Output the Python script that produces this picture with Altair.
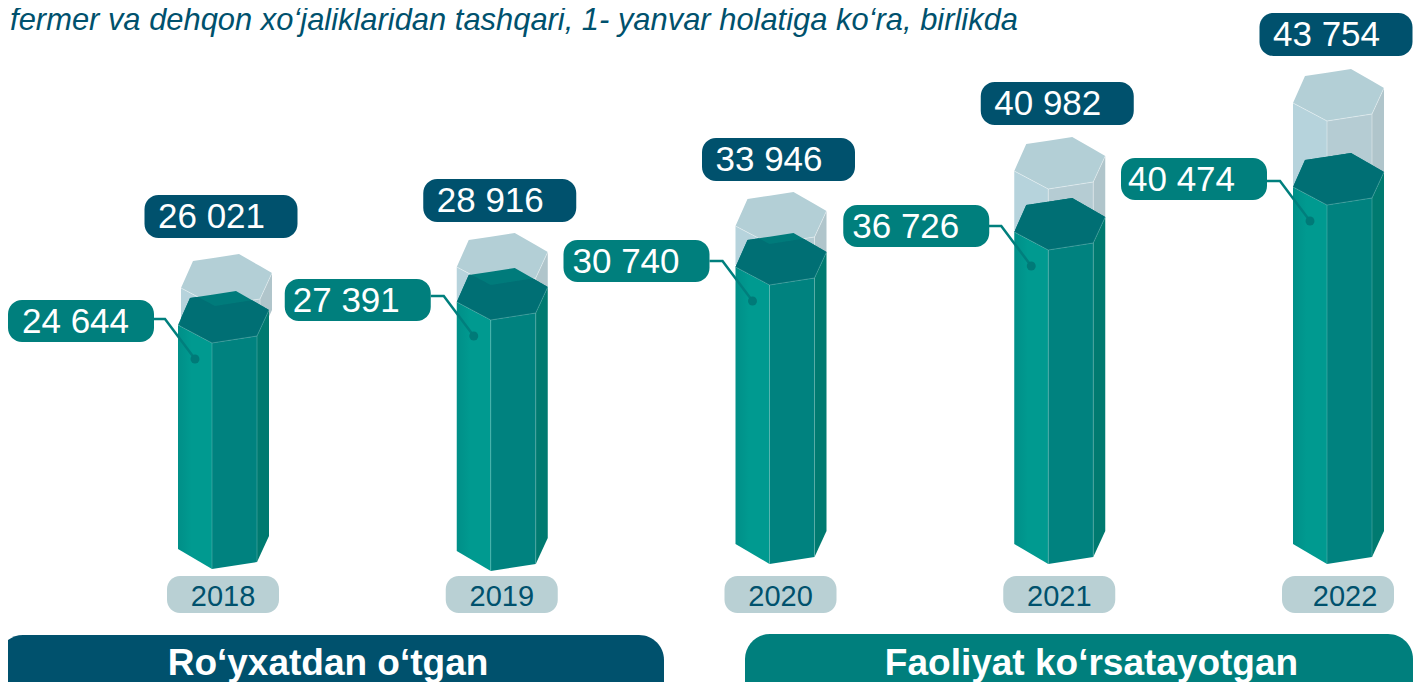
import altair as alt
import numpy as np
import pandas as pd

# ---- values ----
years = [2018, 2019, 2020, 2021, 2022]
registered = [26021, 28916, 33946, 40982, 43754]
active = [24644, 27391, 30740, 36726, 40474]
# column tops as drawn in the picture (the infographic is not strictly to scale)
registered_drawn = [25800, 27900, 32000, 37500, 44300]
active_drawn = [22100, 24400, 27900, 31400, 35900]
floor_drop = [500, 700, 0, 0, 0]
title_text = "fermer va dehqon xo‘jaliklaridan tashqari, 1- yanvar holatiga ko‘ra, birlikda"
series_names = ["Ro‘yxatdan o‘tgan", "Faoliyat ko‘rsatayotgan"]

# ---- colours ----
NAVY = "#00516d"
TEAL = "#007f7d"
YEAR_BG = "#b9d0d4"

# ---- scale helpers: x in years, y in units; px offsets convert to these ----
PX_PER_YEAR = 278.75
PX_PER_UNIT = 0.01
W, H = 1405, 674
X_DOMAIN = [2018 - 204 / PX_PER_YEAR, 2018 + (W - 204) / PX_PER_YEAR]
Y_DOMAIN = [-118 / PX_PER_UNIT, (H - 118) / PX_PER_UNIT]
xs = alt.Scale(domain=X_DOMAIN, range=[0, W], nice=False, zero=False)
ys = alt.Scale(domain=Y_DOMAIN, range=[H, 0], nice=False, zero=False)
X = lambda f="x": alt.X(f"{f}:Q", scale=xs, axis=None)
Y = lambda f="y": alt.Y(f"{f}:Q", scale=ys, axis=None)


def dx(year, px):
    return year + px / PX_PER_YEAR


def dy(value, px):
    # px measured downward on screen
    return value - px / PX_PER_UNIT


# hexagon cross-section relative to the front vertex (screen px)
HEX_UP = ([-34, -22, 24, 57], [-18, -45, -52, -33])
HEX_LOW = ([-34, 0, 45, 57], [-18, 0, -7, -33])
BREAKS = sorted(set(HEX_UP[0] + HEX_LOW[0]))


def faces(tops, shifts, floors):
    left, front, right, top, edges = [], [], [], [], []
    for i, yr in enumerate(years):
        t, f, s = tops[i], floors[i], shifts[i]
        g = str(yr)
        for px, tp, bt in [(-34, -18, -20), (0, 0, 0)]:
            left.append(dict(g=g, x=dx(yr, px + s), y=dy(t, tp), y2=dy(f, bt)))
        for px, off in [(0, 0), (45, -7)]:
            front.append(dict(g=g, x=dx(yr, px + s), y=dy(t, off), y2=dy(f, off)))
        for px, off in [(45, -7), (57, -33)]:
            right.append(dict(g=g, x=dx(yr, px + s), y=dy(t, off), y2=dy(f, off)))
        for px in BREAKS:
            up = np.interp(px, *HEX_UP)
            lo = np.interp(px, *HEX_LOW)
            top.append(dict(g=g, x=dx(yr, px + s), y=dy(t, up), y2=dy(t, lo)))
        for n, (px, off) in enumerate(zip(*HEX_LOW)):
            edges.append(dict(g=g + "rim", o=n, x=dx(yr, px + s), y=dy(t, off)))
        for name, px, off in [("a", 0, 0), ("b", 45, -7)]:
            edges.append(dict(g=g + name, o=0, x=dx(yr, px + s), y=dy(t, off)))
            edges.append(dict(g=g + name, o=1, x=dx(yr, px + s), y=dy(f, off)))
    return [pd.DataFrame(v) for v in (left, front, right, top, edges)]


def overlap():
    # part of the dark top that lies under the pale column
    rows = []
    for i, yr in enumerate(years):
        a, r, s = active_drawn[i], registered_drawn[i], light_shift[i]
        for px in range(-34, 58):
            up = np.interp(px, *HEX_UP)
            lo = np.interp(px, *HEX_LOW)
            y_up = dy(a, up)
            y_lo = dy(a, lo)
            y_rim = dy(r, np.interp(px - s, *HEX_LOW)) if -34 <= px - s else y_lo
            y_top = min(y_up, y_rim)
            y_top = max(y_top, y_lo)
            rows.append(dict(g=str(yr), x=dx(yr, px), y=y_top, y2=y_lo))
    return pd.DataFrame(rows)


def area(df, fill, opacity=1.0):
    return alt.Chart(df).mark_area(color=fill, opacity=opacity, interpolate="linear").encode(
        x=X(), y=Y(), y2="y2:Q", detail="g:N"
    )


def edge(df, colour, opacity, sw=0.7):
    return alt.Chart(df).mark_line(color=colour, opacity=opacity, strokeWidth=sw).encode(
        x=X(), y=Y(), detail="g:N", order="o:Q"
    )


def pills(df, fill, radius):
    return alt.Chart(df).mark_rect(color=fill, cornerRadius=radius).encode(
        x=X(), x2="x2:Q", y=Y(), y2="y2:Q"
    )


def texts(df, colour, size, align="left", **kw):
    return alt.Chart(df).mark_text(
        color=colour, fontSize=size, align=align, baseline="alphabetic",
        font="Liberation Sans", **kw
    ).encode(x=X(), y=Y(), text="t:N")


fmt = lambda v: f"{v:,}".replace(",", " ")

light_shift = [3, 0, 0, 0, 0]
L = faces(registered_drawn, light_shift, active_drawn)
D = faces(active_drawn, [0] * 5, [-v for v in floor_drop])
OV = overlap()

left_grad = alt.Gradient(
    gradient="linear", x1=0, x2=1, y1=0, y2=0,
    stops=[alt.GradientStop(offset=0, color="#008f88"),
           alt.GradientStop(offset=0.4, color="#009a90"),
           alt.GradientStop(offset=1, color="#009a90")],
)

# hand-placed label nudges seen in the picture (screen px, up is positive)
navy_lift = [4, -1, -1, 0, 1]
teal_lift = [-1, -3, 1, 1, 3]
teal_pill_shift = [2, 0, 0, 1, 0]
teal_text_x = [-190, -198, -197, -196, -199]

navy_pills = pd.DataFrame([
    dict(x=dx(y, -67.5), x2=dx(y, 85.5), y=dy(r, -107 - n), y2=dy(r, -64 - n))
    for y, r, n in zip(years, registered_drawn, navy_lift)
])
navy_text = pd.DataFrame([
    dict(x=dx(y, -54), y=dy(r, -74 - n), t=fmt(v))
    for y, r, v, n in zip(years, registered_drawn, registered, navy_lift)
])
teal_pills = pd.DataFrame([
    dict(x=dx(y, -206 + s), x2=dx(y, -60 + s), y=dy(a, -44 - n), y2=dy(a, -2 - n))
    for y, a, n, s in zip(years, active_drawn, teal_lift, teal_pill_shift)
])
teal_text = pd.DataFrame([
    dict(x=dx(y, tx), y=dy(a, -11 - n), t=fmt(v))
    for y, a, v, n, tx in zip(years, active_drawn, active, teal_lift, teal_text_x)
])
conn = pd.DataFrame([
    row
    for y, a in zip(years, active_drawn)
    for row in [
        dict(g=str(y), o=0, x=dx(y, -60), y=dy(a, -24)),
        dict(g=str(y), o=1, x=dx(y, -47), y=dy(a, -24)),
        dict(g=str(y), o=2, x=dx(y, -17), y=dy(a, 16)),
    ]
])
dots = pd.DataFrame([dict(x=dx(y, -17), y=dy(a, 16)) for y, a in zip(years, active_drawn)])

year_shift = [0, 0, 0, 0, 7]
year_pills = pd.DataFrame([
    dict(x=dx(y, -45), x2=dx(y, 67), y=dy(0, 12), y2=dy(0, 49)) for y in years
])
year_text = pd.DataFrame([
    dict(x=dx(y, 11 + s), y=dy(0, 42), t=str(y)) for y, s in zip(years, year_shift)
])

page_x = lambda px: 2018 + (px - 212) / PX_PER_YEAR
page_y = lambda py: (564 - py) / PX_PER_UNIT

banners_navy = pd.DataFrame([dict(x=page_x(-2), x2=page_x(664), y=page_y(635), y2=page_y(730))])
banners_teal = pd.DataFrame([dict(x=page_x(745), x2=page_x(1413), y=page_y(634), y2=page_y(730))])
banner_text = pd.DataFrame([
    dict(x=page_x(328), y=page_y(675), t=series_names[0]),
    dict(x=page_x(1091.5), y=page_y(675), t=series_names[1]),
])
title_df = pd.DataFrame([dict(x=page_x(1018), y=page_y(30), t=title_text)])

chart = alt.layer(
    texts(title_df, NAVY, 30.9, align="right", fontStyle="italic"),
    area(L[1], "#b5ccd3"),
    area(L[0], "#b6d3dc"),
    area(L[2], "#b0c5cb"),
    area(L[3], "#b3cfd6"),
    edge(L[4], "#ffffff", 0.55),
    area(D[1], "#00827f"),
    area(D[0], left_grad),
    area(D[2], "#007a70"),
    area(D[3], "#007b7b"),
    area(OV, "#006f74"),
    edge(D[4], "#7fc4bf", 0.55),
    alt.Chart(conn).mark_line(color=TEAL, strokeWidth=2.5).encode(x=X(), y=Y(), detail="g:N", order="o:Q"),
    alt.Chart(dots).mark_point(filled=True, color="#007a78", size=80, opacity=1).encode(x=X(), y=Y()),
    pills(navy_pills, NAVY, 14),
    texts(navy_text, "#ffffff", 35),
    pills(teal_pills, TEAL, 14),
    texts(teal_text, "#ffffff", 35),
    pills(year_pills, YEAR_BG, 13),
    texts(year_text, NAVY, 29, align="center"),
    pills(banners_navy, NAVY, 25),
    pills(banners_teal, TEAL, 25),
    texts(banner_text, "#ffffff", 37, align="center", fontWeight="bold"),
).properties(
    width=W, height=H, padding=0, background="white",
    autosize=alt.AutoSizeParams(type="none"),
).configure_view(stroke=None)

chart.save("out.html", embed_options={"renderer": "svg", "actions": False})
